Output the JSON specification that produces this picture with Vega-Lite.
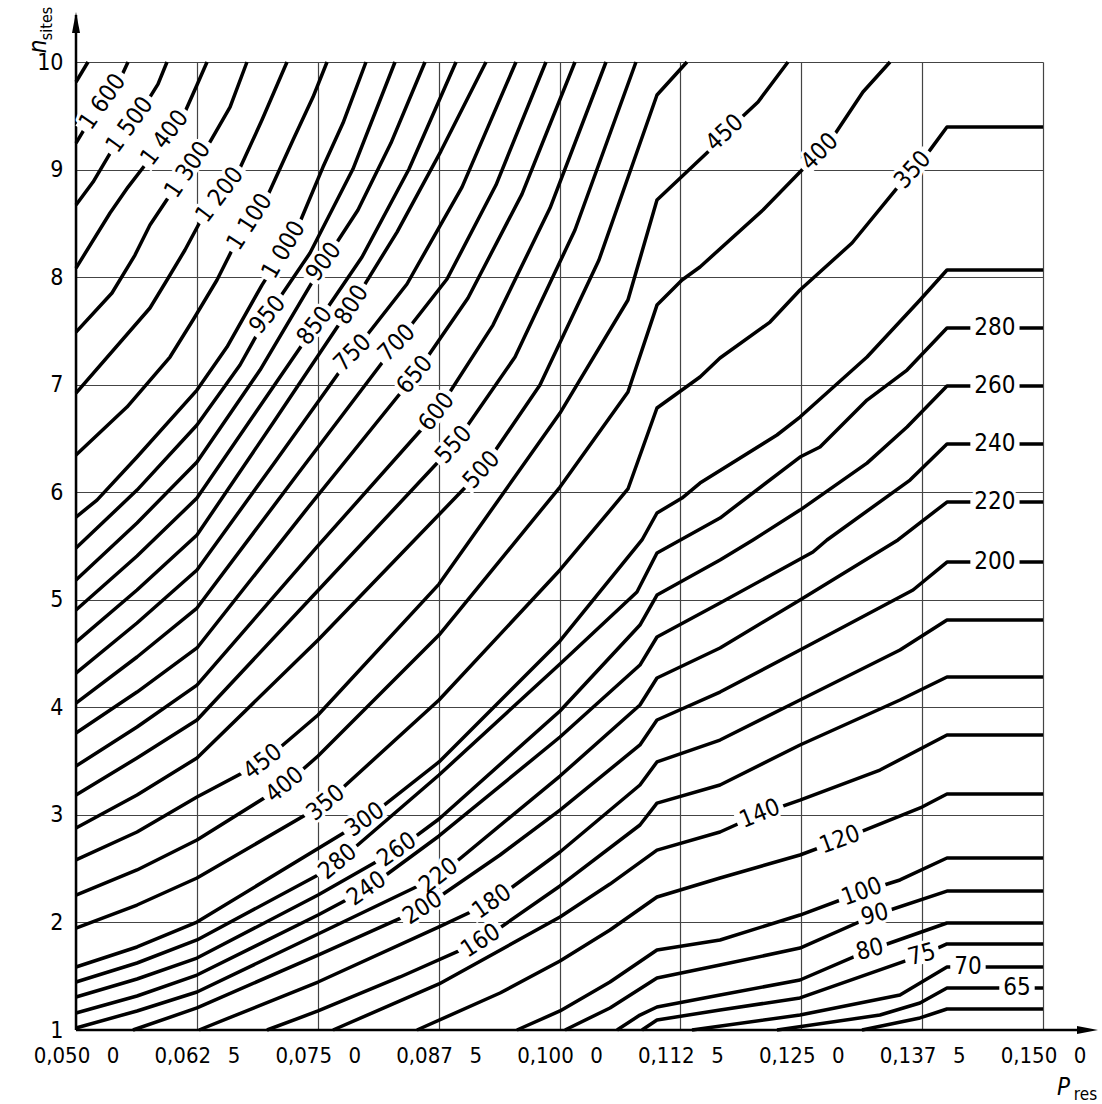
{
"$schema": "https://vega.github.io/schema/vega-lite/v6.json",
"width": 967, "height": 968,
"autosize": {"type": "none"},
"padding": {"left": 76, "top": 62, "right": 59, "bottom": 74},
"background": "white",
"config": {"view": {"stroke": null}, "axis": {"labelFont": "DejaVu Sans Condensed, Roboto, sans-serif", "titleFont": "DejaVu Sans Condensed, Roboto, sans-serif", "labelColor": "black", "titleColor": "black", "titleFontWeight": "normal"}},
"resolve": {"axis": {"x": "independent", "y": "independent"}},
"datasets": {
"lines": [
{"L":1700,"P":0.05,"n":9.814},{"L":1700,"P":0.05124,"n":10},
{"L":1600,"P":0.05,"n":9.246},{"L":1600,"P":0.05093,"n":9.386},{"L":1600,"P":0.05279,"n":9.628},{"L":1600,"P":0.05476,"n":9.879},{"L":1600,"P":0.05538,"n":10},
{"L":1500,"P":0.05,"n":8.67},{"L":1500,"P":0.05176,"n":8.884},{"L":1500,"P":0.05372,"n":9.181},{"L":1500,"P":0.05558,"n":9.414},{"L":1500,"P":0.05745,"n":9.646},{"L":1500,"P":0.05848,"n":9.795},{"L":1500,"P":0.05941,"n":10},
{"L":1400,"P":0.05,"n":8.084},{"L":1400,"P":0.05352,"n":8.596},{"L":1400,"P":0.05538,"n":8.837},{"L":1400,"P":0.05714,"n":9.042},{"L":1400,"P":0.0592,"n":9.293},{"L":1400,"P":0.06127,"n":9.535},{"L":1400,"P":0.06251,"n":9.786},{"L":1400,"P":0.06355,"n":10},
{"L":1300,"P":0.05,"n":7.489},{"L":1300,"P":0.05372,"n":7.852},{"L":1300,"P":0.0561,"n":8.205},{"L":1300,"P":0.05765,"n":8.484},{"L":1300,"P":0.05972,"n":8.763},{"L":1300,"P":0.06158,"n":9.014},{"L":1300,"P":0.06355,"n":9.209},{"L":1300,"P":0.06593,"n":9.581},{"L":1300,"P":0.06768,"n":10},
{"L":1200,"P":0.05,"n":6.922},{"L":1200,"P":0.05765,"n":7.713},{"L":1200,"P":0.05941,"n":7.973},{"L":1200,"P":0.06127,"n":8.252},{"L":1200,"P":0.06282,"n":8.512},{"L":1200,"P":0.06489,"n":8.763},{"L":1200,"P":0.06696,"n":9.014},{"L":1200,"P":0.06923,"n":9.46},{"L":1200,"P":0.07182,"n":10},
{"L":1100,"P":0.05,"n":6.346},{"L":1100,"P":0.05527,"n":6.792},{"L":1100,"P":0.05972,"n":7.257},{"L":1100,"P":0.0621,"n":7.601},{"L":1100,"P":0.06458,"n":7.973},{"L":1100,"P":0.06624,"n":8.27},{"L":1100,"P":0.06799,"n":8.512},{"L":1100,"P":0.06985,"n":8.763},{"L":1100,"P":0.07244,"n":9.274},{"L":1100,"P":0.07451,"n":9.674},{"L":1100,"P":0.07596,"n":10},
{"L":1000,"P":0.05,"n":5.769},{"L":1000,"P":0.05217,"n":5.927},{"L":1000,"P":0.05631,"n":6.327},{"L":1000,"P":0.06251,"n":6.95},{"L":1000,"P":0.06561,"n":7.35},{"L":1000,"P":0.06923,"n":7.926},{"L":1000,"P":0.07151,"n":8.252},{"L":1000,"P":0.07316,"n":8.512},{"L":1000,"P":0.07554,"n":9.023},{"L":1000,"P":0.07761,"n":9.432},{"L":1000,"P":0.07999,"n":10},
{"L":950,"P":0.05,"n":5.481},{"L":950,"P":0.05631,"n":6.02},{"L":950,"P":0.06251,"n":6.625},{"L":950,"P":0.06696,"n":7.183},{"L":950,"P":0.06985,"n":7.647},{"L":950,"P":0.0742,"n":8.224},{"L":950,"P":0.07864,"n":9.005},{"L":950,"P":0.08299,"n":10},
{"L":900,"P":0.05,"n":5.184},{"L":900,"P":0.05631,"n":5.714},{"L":900,"P":0.06251,"n":6.281},{"L":900,"P":0.06903,"n":7.136},{"L":900,"P":0.07565,"n":8.14},{"L":900,"P":0.07916,"n":8.624},{"L":900,"P":0.08257,"n":9.246},{"L":900,"P":0.08609,"n":10},
{"L":850,"P":0.05,"n":4.905},{"L":850,"P":0.05631,"n":5.407},{"L":850,"P":0.06251,"n":5.946},{"L":850,"P":0.06861,"n":6.746},{"L":850,"P":0.07472,"n":7.545},{"L":850,"P":0.07958,"n":8.187},{"L":850,"P":0.08444,"n":9.005},{"L":850,"P":0.0893,"n":10},
{"L":800,"P":0.05,"n":4.607},{"L":800,"P":0.05631,"n":5.091},{"L":800,"P":0.06251,"n":5.602},{"L":800,"P":0.07058,"n":6.671},{"L":800,"P":0.07854,"n":7.74},{"L":800,"P":0.0832,"n":8.419},{"L":800,"P":0.08774,"n":9.172},{"L":800,"P":0.0924,"n":10},
{"L":750,"P":0.05,"n":4.319},{"L":750,"P":0.05631,"n":4.784},{"L":750,"P":0.06251,"n":5.277},{"L":750,"P":0.07058,"n":6.281},{"L":750,"P":0.07864,"n":7.294},{"L":750,"P":0.08423,"n":7.936},{"L":750,"P":0.08992,"n":8.837},{"L":750,"P":0.0955,"n":10},
{"L":700,"P":0.05,"n":4.04},{"L":700,"P":0.05631,"n":4.468},{"L":700,"P":0.06251,"n":4.923},{"L":700,"P":0.07285,"n":6.16},{"L":700,"P":0.0832,"n":7.387},{"L":700,"P":0.08837,"n":7.982},{"L":700,"P":0.09343,"n":8.856},{"L":700,"P":0.0986,"n":10},
{"L":650,"P":0.05,"n":3.761},{"L":650,"P":0.05631,"n":4.142},{"L":650,"P":0.06251,"n":4.552},{"L":650,"P":0.07378,"n":5.834},{"L":650,"P":0.08506,"n":7.09},{"L":650,"P":0.09054,"n":7.806},{"L":650,"P":0.09612,"n":8.772},{"L":650,"P":0.1016,"n":10},
{"L":600,"P":0.05,"n":3.454},{"L":600,"P":0.05631,"n":3.817},{"L":600,"P":0.06251,"n":4.207},{"L":600,"P":0.07492,"n":5.491},{"L":600,"P":0.08733,"n":6.746},{"L":600,"P":0.09312,"n":7.554},{"L":600,"P":0.09902,"n":8.642},{"L":600,"P":0.10481,"n":10},
{"L":550,"P":0.05,"n":3.185},{"L":550,"P":0.05631,"n":3.529},{"L":550,"P":0.06251,"n":3.882},{"L":550,"P":0.07575,"n":5.156},{"L":550,"P":0.08909,"n":6.439},{"L":550,"P":0.0954,"n":7.257},{"L":550,"P":0.1016,"n":8.438},{"L":550,"P":0.10791,"n":10},
{"L":500,"P":0.05,"n":2.878},{"L":500,"P":0.05631,"n":3.185},{"L":500,"P":0.06251,"n":3.529},{"L":500,"P":0.07503,"n":4.626},{"L":500,"P":0.08351,"n":5.416},{"L":500,"P":0.09198,"n":6.206},{"L":500,"P":0.09798,"n":6.997},{"L":500,"P":0.10408,"n":8.159},{"L":500,"P":0.11008,"n":9.693},{"L":500,"P":0.11318,"n":10},
{"L":450,"P":0.05,"n":2.581},{"L":450,"P":0.05631,"n":2.841},{"L":450,"P":0.06251,"n":3.166},{"L":450,"P":0.06934,"n":3.492},{"L":450,"P":0.07503,"n":3.929},{"L":450,"P":0.08754,"n":5.146},{"L":450,"P":0.10005,"n":6.736},{"L":450,"P":0.10708,"n":7.787},{"L":450,"P":0.11008,"n":8.717},{"L":450,"P":0.11556,"n":9.181},{"L":450,"P":0.11711,"n":9.339},{"L":450,"P":0.12053,"n":9.628},{"L":450,"P":0.12363,"n":10},
{"L":400,"P":0.05,"n":2.255},{"L":400,"P":0.05631,"n":2.488},{"L":400,"P":0.06251,"n":2.766},{"L":400,"P":0.07161,"n":3.278},{"L":400,"P":0.07503,"n":3.547},{"L":400,"P":0.08754,"n":4.672},{"L":400,"P":0.10005,"n":6.048},{"L":400,"P":0.10708,"n":6.932},{"L":400,"P":0.11008,"n":7.74},{"L":400,"P":0.11267,"n":7.973},{"L":400,"P":0.11453,"n":8.094},{"L":400,"P":0.12104,"n":8.624},{"L":400,"P":0.12487,"n":8.977},{"L":400,"P":0.12694,"n":9.163},{"L":400,"P":0.12828,"n":9.302},{"L":400,"P":0.13138,"n":9.721},{"L":400,"P":0.13418,"n":10},
{"L":350,"P":0.05,"n":1.948},{"L":350,"P":0.05631,"n":2.162},{"L":350,"P":0.06251,"n":2.413},{"L":350,"P":0.07585,"n":3.11},{"L":350,"P":0.08754,"n":4.068},{"L":350,"P":0.10005,"n":5.277},{"L":350,"P":0.10708,"n":6.03},{"L":350,"P":0.11008,"n":6.783},{"L":350,"P":0.11453,"n":7.071},{"L":350,"P":0.1166,"n":7.248},{"L":350,"P":0.12177,"n":7.582},{"L":350,"P":0.12487,"n":7.88},{"L":350,"P":0.13025,"n":8.317},{"L":350,"P":0.1349,"n":8.828},{"L":350,"P":0.13656,"n":8.995},{"L":350,"P":0.13831,"n":9.181},{"L":350,"P":0.14007,"n":9.395},{"L":350,"P":0.15,"n":9.395},
{"L":300,"P":0.05,"n":1.586},{"L":300,"P":0.05631,"n":1.772},{"L":300,"P":0.06251,"n":2.004},{"L":300,"P":0.07989,"n":2.952},{"L":300,"P":0.08754,"n":3.492},{"L":300,"P":0.10005,"n":4.617},{"L":300,"P":0.10853,"n":5.556},{"L":300,"P":0.11008,"n":5.807},{"L":300,"P":0.11267,"n":5.946},{"L":300,"P":0.11453,"n":6.085},{"L":300,"P":0.12249,"n":6.532},{"L":300,"P":0.12487,"n":6.699},{"L":300,"P":0.1318,"n":7.257},{"L":300,"P":0.13728,"n":7.787},{"L":300,"P":0.14007,"n":8.066},{"L":300,"P":0.15,"n":8.066},
{"L":280,"P":0.05,"n":1.446},{"L":280,"P":0.05631,"n":1.623},{"L":280,"P":0.06251,"n":1.837},{"L":280,"P":0.07503,"n":2.441},{"L":280,"P":0.07709,"n":2.562},{"L":280,"P":0.08754,"n":3.371},{"L":280,"P":0.10005,"n":4.403},{"L":280,"P":0.10801,"n":5.072},{"L":280,"P":0.11008,"n":5.435},{"L":280,"P":0.1166,"n":5.76},{"L":280,"P":0.12487,"n":6.327},{"L":280,"P":0.12694,"n":6.42},{"L":280,"P":0.1318,"n":6.857},{"L":280,"P":0.13594,"n":7.136},{"L":280,"P":0.14007,"n":7.527},{"L":280,"P":0.15,"n":7.527},
{"L":260,"P":0.05,"n":1.307},{"L":260,"P":0.05631,"n":1.474},{"L":260,"P":0.06251,"n":1.669},{"L":260,"P":0.07503,"n":2.255},{"L":260,"P":0.0832,"n":2.673},{"L":260,"P":0.08754,"n":2.962},{"L":260,"P":0.10005,"n":3.966},{"L":260,"P":0.10832,"n":4.765},{"L":260,"P":0.11008,"n":5.044},{"L":260,"P":0.1166,"n":5.37},{"L":260,"P":0.12001,"n":5.556},{"L":260,"P":0.12487,"n":5.834},{"L":260,"P":0.1318,"n":6.271},{"L":260,"P":0.13594,"n":6.606},{"L":260,"P":0.14007,"n":6.987},{"L":260,"P":0.15,"n":6.987},
{"L":240,"P":0.05,"n":1.158},{"L":240,"P":0.05631,"n":1.316},{"L":240,"P":0.06251,"n":1.511},{"L":240,"P":0.07503,"n":2.069},{"L":240,"P":0.08009,"n":2.311},{"L":240,"P":0.08754,"n":2.804},{"L":240,"P":0.10005,"n":3.724},{"L":240,"P":0.10832,"n":4.393},{"L":240,"P":0.11008,"n":4.654},{"L":240,"P":0.1166,"n":4.97},{"L":240,"P":0.12621,"n":5.444},{"L":240,"P":0.12766,"n":5.556},{"L":240,"P":0.13625,"n":6.113},{"L":240,"P":0.14007,"n":6.448},{"L":240,"P":0.15,"n":6.448},
{"L":220,"P":0.05,"n":1.019},{"L":220,"P":0.05631,"n":1.177},{"L":220,"P":0.06251,"n":1.353},{"L":220,"P":0.07503,"n":1.893},{"L":220,"P":0.08754,"n":2.432},{"L":220,"P":0.10005,"n":3.361},{"L":220,"P":0.10832,"n":4.022},{"L":220,"P":0.11008,"n":4.273},{"L":220,"P":0.1166,"n":4.552},{"L":220,"P":0.12487,"n":4.998},{"L":220,"P":0.135,"n":5.556},{"L":220,"P":0.14007,"n":5.909},{"L":220,"P":0.15,"n":5.909},
{"L":200,"P":0.05589,"n":1},{"L":200,"P":0.06251,"n":1.205},{"L":200,"P":0.07503,"n":1.697},{"L":200,"P":0.08588,"n":2.134},{"L":200,"P":0.09385,"n":2.627},{"L":200,"P":0.10005,"n":3.045},{"L":200,"P":0.10832,"n":3.65},{"L":200,"P":0.11008,"n":3.882},{"L":200,"P":0.1166,"n":4.142},{"L":200,"P":0.12487,"n":4.533},{"L":200,"P":0.13656,"n":5.091},{"L":200,"P":0.14007,"n":5.351},{"L":200,"P":0.15,"n":5.351},
{"L":180,"P":0.06272,"n":1},{"L":180,"P":0.07503,"n":1.446},{"L":180,"P":0.08754,"n":1.958},{"L":180,"P":0.09302,"n":2.19},{"L":180,"P":0.10005,"n":2.655},{"L":180,"P":0.10832,"n":3.278},{"L":180,"P":0.11008,"n":3.492},{"L":180,"P":0.1166,"n":3.696},{"L":180,"P":0.12487,"n":4.068},{"L":180,"P":0.13521,"n":4.533},{"L":180,"P":0.14007,"n":4.812},{"L":180,"P":0.15,"n":4.812},
{"L":160,"P":0.06975,"n":1},{"L":160,"P":0.07503,"n":1.177},{"L":160,"P":0.08351,"n":1.493},{"L":160,"P":0.09188,"n":1.827},{"L":160,"P":0.10005,"n":2.339},{"L":160,"P":0.10832,"n":2.906},{"L":160,"P":0.11008,"n":3.11},{"L":160,"P":0.1166,"n":3.278},{"L":160,"P":0.12487,"n":3.65},{"L":160,"P":0.13521,"n":4.068},{"L":160,"P":0.14007,"n":4.282},{"L":160,"P":0.15,"n":4.282},
{"L":140,"P":0.07658,"n":1},{"L":140,"P":0.08754,"n":1.428},{"L":140,"P":0.10005,"n":2.051},{"L":140,"P":0.10522,"n":2.357},{"L":140,"P":0.11008,"n":2.673},{"L":140,"P":0.1166,"n":2.841},{"L":140,"P":0.12073,"n":3.008},{"L":140,"P":0.12487,"n":3.138},{"L":140,"P":0.13314,"n":3.417},{"L":140,"P":0.14007,"n":3.743},{"L":140,"P":0.15,"n":3.743},
{"L":120,"P":0.08526,"n":1},{"L":120,"P":0.09385,"n":1.344},{"L":120,"P":0.10005,"n":1.641},{"L":120,"P":0.10522,"n":1.93},{"L":120,"P":0.11008,"n":2.237},{"L":120,"P":0.1166,"n":2.413},{"L":120,"P":0.12487,"n":2.627},{"L":120,"P":0.129,"n":2.766},{"L":120,"P":0.13749,"n":3.073},{"L":120,"P":0.14007,"n":3.194},{"L":120,"P":0.15,"n":3.194},
{"L":100,"P":0.0956,"n":1},{"L":100,"P":0.10005,"n":1.177},{"L":100,"P":0.10522,"n":1.446},{"L":100,"P":0.11008,"n":1.744},{"L":100,"P":0.1166,"n":1.837},{"L":100,"P":0.12487,"n":2.069},{"L":100,"P":0.13128,"n":2.283},{"L":100,"P":0.13521,"n":2.395},{"L":100,"P":0.14007,"n":2.599},{"L":100,"P":0.15,"n":2.599},
{"L":90,"P":0.10057,"n":1},{"L":90,"P":0.10522,"n":1.205},{"L":90,"P":0.11008,"n":1.483},{"L":90,"P":0.1166,"n":1.604},{"L":90,"P":0.12487,"n":1.762},{"L":90,"P":0.13262,"n":2.069},{"L":90,"P":0.14007,"n":2.292},{"L":90,"P":0.15,"n":2.292},
{"L":80,"P":0.10595,"n":1},{"L":80,"P":0.10832,"n":1.139},{"L":80,"P":0.11008,"n":1.214},{"L":80,"P":0.1166,"n":1.325},{"L":80,"P":0.12487,"n":1.465},{"L":80,"P":0.13211,"n":1.744},{"L":80,"P":0.14007,"n":1.995},{"L":80,"P":0.15,"n":1.995},
{"L":75,"P":0.10853,"n":1},{"L":75,"P":0.11008,"n":1.093},{"L":75,"P":0.1166,"n":1.186},{"L":75,"P":0.12487,"n":1.298},{"L":75,"P":0.13749,"n":1.697},{"L":75,"P":0.14007,"n":1.8},{"L":75,"P":0.15,"n":1.8},
{"L":70,"P":0.1137,"n":1},{"L":70,"P":0.12487,"n":1.139},{"L":70,"P":0.13521,"n":1.325},{"L":70,"P":0.14007,"n":1.586},{"L":70,"P":0.15,"n":1.586},
{"L":65,"P":0.12249,"n":1},{"L":65,"P":0.13314,"n":1.139},{"L":65,"P":0.13728,"n":1.251},{"L":65,"P":0.14007,"n":1.39},{"L":65,"P":0.15,"n":1.39},
{"L":60,"P":0.13128,"n":1},{"L":60,"P":0.13728,"n":1.112},{"L":60,"P":0.14007,"n":1.195},{"L":60,"P":0.15,"n":1.195}
],
"labels": [
{"t":"1 600","P":0.05279,"n":9.628,"a":-55},{"t":"1 500","P":0.05558,"n":9.414,"a":-54},{"t":"1 400","P":0.0592,"n":9.293,"a":-53},{"t":"1 300","P":0.06158,"n":8.995,"a":-56},{"t":"1 200","P":0.06489,"n":8.763,"a":-53},{"t":"1 100","P":0.06799,"n":8.512,"a":-57},{"t":"1 000","P":0.07151,"n":8.252,"a":-60},{"t":"900","P":0.07565,"n":8.14,"a":-53},
{"t":"950","P":0.06985,"n":7.647,"a":-50},{"t":"850","P":0.07472,"n":7.545,"a":-52},{"t":"800","P":0.07854,"n":7.74,"a":-57},{"t":"750","P":0.07864,"n":7.294,"a":-45},{"t":"700","P":0.0832,"n":7.387,"a":-45},{"t":"650","P":0.08506,"n":7.09,"a":-50},{"t":"600","P":0.08733,"n":6.746,"a":-52},{"t":"550","P":0.08909,"n":6.439,"a":-48},{"t":"500","P":0.09198,"n":6.206,"a":-48},
{"t":"450","P":0.11711,"n":9.339,"a":-43},{"t":"400","P":0.12694,"n":9.163,"a":-45},{"t":"350","P":0.13656,"n":8.995,"a":-48},
{"t":"280","P":0.14503,"n":7.527,"a":0},{"t":"260","P":0.14503,"n":6.987,"a":0},{"t":"240","P":0.14503,"n":6.448,"a":0},{"t":"220","P":0.14503,"n":5.909,"a":0},{"t":"200","P":0.14503,"n":5.351,"a":0},
{"t":"140","P":0.12073,"n":3.008,"a":-22},{"t":"120","P":0.129,"n":2.766,"a":-20},{"t":"100","P":0.13128,"n":2.283,"a":-20},{"t":"90","P":0.13262,"n":2.069,"a":-15},{"t":"80","P":0.13211,"n":1.744,"a":-15},{"t":"75","P":0.13749,"n":1.697,"a":-15},{"t":"70","P":0.14224,"n":1.586,"a":0},{"t":"65","P":0.14731,"n":1.39,"a":0},
{"t":"450","P":0.06934,"n":3.492,"a":-38},{"t":"400","P":0.07161,"n":3.278,"a":-40},{"t":"350","P":0.07585,"n":3.11,"a":-40},{"t":"300","P":0.07989,"n":2.952,"a":-35},{"t":"280","P":0.07709,"n":2.562,"a":-40},{"t":"260","P":0.0832,"n":2.673,"a":-35},{"t":"240","P":0.08009,"n":2.311,"a":-35},{"t":"220","P":0.08754,"n":2.432,"a":-38},{"t":"200","P":0.08588,"n":2.134,"a":-33},{"t":"180","P":0.09302,"n":2.19,"a":-35},{"t":"160","P":0.09188,"n":1.827,"a":-33}
],
"frame": [
{"P":0.05,"n":1,"P2":0.05,"n2":10.437},
{"P":0.05,"n":1,"P2":0.1542,"n2":1}
]
},
"layer": [
{"data": {"name": "lines"},
 "mark": {"type": "line", "stroke": "black", "strokeWidth": 3.5, "strokeJoin": "round"},
 "encoding": {
  "x": {"field": "P", "type": "quantitative", "scale": {"domain": [0.05, 0.15], "nice": false, "zero": false},
   "axis": {"orient": "bottom", "values": [0.05,0.0625,0.075,0.0875,0.1,0.1125,0.125,0.1375,0.15],
    "labelExpr": "replace(substring(format(datum.value,'.4f'),0,5),'.',',') + '\u00a0\u00a0\u2009' + substring(format(datum.value,'.4f'),5)",
    "labelFontSize": 22, "labelPadding": 15, "labelFlush": false, "labelOverlap": false, "ticks": false, "domain": false,
    "grid": true, "gridColor": "#444", "gridWidth": 1.2,
    "title": "P", "titleFontStyle": "italic", "titleFontSize": 24, "titleX": 987, "titleY": 57, "titleAlign": "center", "titleBaseline": "middle", "titleAngle": 0}},
  "y": {"field": "n", "type": "quantitative", "scale": {"domain": [1, 10], "nice": false, "zero": false},
   "axis": {"orient": "left", "values": [1,2,3,4,5,6,7,8,9,10], "labelFontSize": 23, "labelPadding": 13, "labelFlush": false, "labelOverlap": false,
    "ticks": false, "domain": false, "grid": true, "gridColor": "#444", "gridWidth": 1.2,
    "title": "n", "titleFontStyle": "italic", "titleFontSize": 24, "titleAngle": 270, "titleX": -38, "titleY": -16, "titleAlign": "center", "titleBaseline": "middle"}},
  "detail": {"field": "L", "type": "nominal"}
 }},
{"data": {"name": "frame"},
 "mark": {"type": "rule", "stroke": "black", "strokeWidth": 2.5},
 "encoding": {
  "x": {"field": "P", "type": "quantitative", "axis": {"orient": "top", "labels": false, "ticks": false, "domain": false, "grid": false,
    "title": "res", "titleFontSize": 17, "titleX": 1009, "titleY": 1032, "titleAlign": "center", "titleBaseline": "middle", "titleAngle": 0}},
  "y": {"field": "n", "type": "quantitative", "axis": {"orient": "right", "labels": false, "ticks": false, "domain": false, "grid": false,
    "title": "sites", "titleFontSize": 16, "titleAngle": 270, "titleX": -997, "titleY": -39, "titleAlign": "center", "titleBaseline": "middle"}},
  "x2": {"field": "P2"}, "y2": {"field": "n2"}
 }},
{"data": {"values": [{"P": 0.1546, "n": 1}]},
 "mark": {"type": "point", "shape": "M1,0L-1,-0.38L-1,0.38Z", "filled": true, "fill": "black", "stroke": null, "size": 441, "opacity": 1},
 "encoding": {"x": {"field": "P", "type": "quantitative", "axis": null}, "y": {"field": "n", "type": "quantitative", "axis": null}}},
{"data": {"values": [{"P": 0.05, "n": 10.367}]},
 "mark": {"type": "point", "shape": "M0,-1L-0.38,1L0.38,1Z", "filled": true, "fill": "black", "stroke": null, "size": 441, "opacity": 1},
 "encoding": {"x": {"field": "P", "type": "quantitative", "axis": null}, "y": {"field": "n", "type": "quantitative", "axis": null}}},
{"data": {"name": "labels"}, "transform": [{"filter": "length(datum.t) == 5"}],
 "mark": {"type": "point", "shape": "M-1,-0.26L1,-0.26L1,0.26L-1,0.26Z", "filled": true, "fill": "white", "stroke": null, "size": 4900, "opacity": 1},
 "encoding": {"x": {"field": "P", "type": "quantitative", "axis": null}, "y": {"field": "n", "type": "quantitative", "axis": null}, "angle": {"field": "a", "type": "quantitative", "scale": null}}},
{"data": {"name": "labels"}, "transform": [{"filter": "length(datum.t) == 3"}],
 "mark": {"type": "point", "shape": "M-1,-0.36L1,-0.36L1,0.36L-1,0.36Z", "filled": true, "fill": "white", "stroke": null, "size": 2420, "opacity": 1},
 "encoding": {"x": {"field": "P", "type": "quantitative", "axis": null}, "y": {"field": "n", "type": "quantitative", "axis": null}, "angle": {"field": "a", "type": "quantitative", "scale": null}}},
{"data": {"name": "labels"}, "transform": [{"filter": "length(datum.t) == 2"}],
 "mark": {"type": "point", "shape": "M-1,-0.5L1,-0.5L1,0.5L-1,0.5Z", "filled": true, "fill": "white", "stroke": null, "size": 1253, "opacity": 1},
 "encoding": {"x": {"field": "P", "type": "quantitative", "axis": null}, "y": {"field": "n", "type": "quantitative", "axis": null}, "angle": {"field": "a", "type": "quantitative", "scale": null}}},
{"data": {"name": "labels"},
 "mark": {"type": "text", "font": "DejaVu Sans Condensed, Roboto, sans-serif", "fontSize": 24, "fill": "white", "stroke": "white", "strokeWidth": 6, "strokeJoin": "round", "align": "center", "baseline": "middle"},
 "encoding": {"x": {"field": "P", "type": "quantitative", "axis": null}, "y": {"field": "n", "type": "quantitative", "axis": null},
  "text": {"field": "t"}, "angle": {"field": "a", "type": "quantitative", "scale": null}}},
{"data": {"name": "labels"},
 "mark": {"type": "text", "font": "DejaVu Sans Condensed, Roboto, sans-serif", "fontSize": 24, "fill": "black", "align": "center", "baseline": "middle"},
 "encoding": {"x": {"field": "P", "type": "quantitative", "axis": null}, "y": {"field": "n", "type": "quantitative", "axis": null},
  "text": {"field": "t"}, "angle": {"field": "a", "type": "quantitative", "scale": null}}}
]
}
